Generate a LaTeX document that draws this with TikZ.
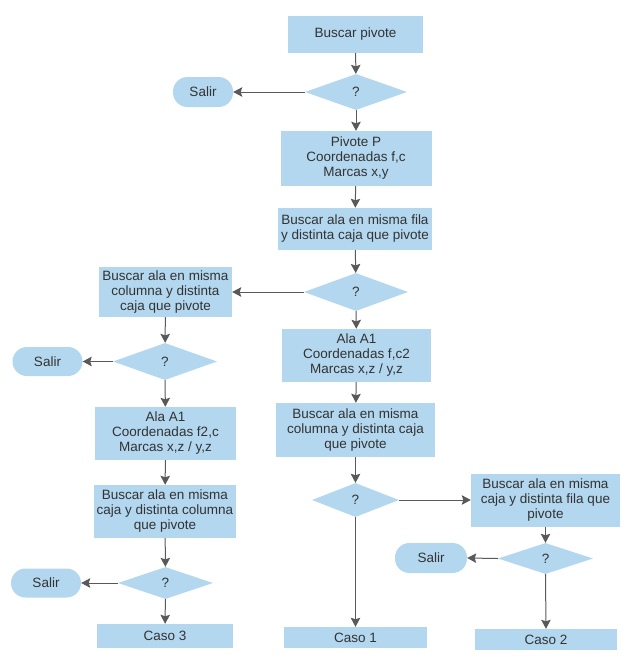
\documentclass[tikz,border=0pt]{standalone}
\usepackage{fontspec}
\setmainfont{Liberation Sans}
\usetikzlibrary{arrows.meta}
\usetikzlibrary{shapes.geometric}

\definecolor{relleno}{HTML}{B2D7EF}
\definecolor{linea}{HTML}{595959}
\definecolor{texto}{HTML}{333333}

\tikzset{
    caja/.style = {rectangle, fill=relleno, text=texto, align=center, inner sep=0pt,
                   font=\fontsize{13.5}{15}\selectfont},
    rombo/.style = {diamond, fill=relleno, text=texto, inner sep=0pt,
                    font=\fontsize{13.5}{15}\selectfont},
    salida/.style = {rectangle, rounded corners=14.5pt, fill=relleno, text=texto, inner sep=0pt,
                     minimum width=70pt, minimum height=29pt, font=\fontsize{13.5}{15}\selectfont},
    flecha/.style = {draw=linea, line width=1pt, -{Stealth[length=9pt, width=9.5pt, inset=1.5pt]}}
}

\begin{document}
\begin{tikzpicture}[x=1pt, y=-1pt]

    \useasboundingbox (0,0) rectangle (634,659);

    % columna central
    \node[caja, minimum width=135pt, minimum height=37pt] (buscar) at (355.5,34.5) {Buscar pivote};
    \node[rombo, minimum width=102pt, minimum height=36pt] (d1) at (356,92) {?};
    \node[salida, minimum width=60pt, minimum height=30pt] (s1) at (203,92) {Salir};
    \node[caja, minimum width=151pt, minimum height=55pt] (pivote) at (356,158.5)
        {Pivote P\\Coordenadas f,c\\Marcas x,y};
    \node[caja, minimum width=154pt, minimum height=42pt] (fila) at (355,229)
        {Buscar ala en misma fila\\y distinta caja que pivote};
    \node[rombo, minimum width=104pt, minimum height=38pt] (d2) at (356,292) {?};
    \node[caja, minimum width=149pt, minimum height=53pt] (alaM) at (356.5,355.5)
        {Ala A1\\Coordenadas f,c2\\Marcas x,z / y,z};
    \node[caja, minimum width=159pt, minimum height=54pt] (colM) at (355.5,430)
        {Buscar ala en misma\\columna y distinta caja\\que pivote};
    \node[rombo, minimum width=87pt, minimum height=34pt] (d3) at (355.5,500) {?};
    \node[caja, minimum width=143pt, minimum height=21pt] (caso1) at (355.5,637.5) {Caso 1};

    % columna derecha
    \node[caja, minimum width=149pt, minimum height=53pt] (cajaR) at (545.5,500.5)
        {Buscar ala en misma\\caja y distinta fila que\\pivote};
    \node[rombo, minimum width=95pt, minimum height=31pt] (dR) at (545.5,558.5) {?};
    \node[salida, minimum width=72pt, minimum height=30pt] (sR) at (431,558) {Salir};
    \node[caja, minimum width=142pt, minimum height=21pt] (caso2) at (546,639.5) {Caso 2};

    % columna izquierda
    \node[caja, minimum width=133pt, minimum height=50pt] (colL) at (165.5,292)
        {Buscar ala en misma\\columna y distinta\\caja que pivote};
    \node[rombo, minimum width=104pt, minimum height=37pt] (dL1) at (165,361.5) {?};
    \node[salida] (sL1) at (47.5,361.5) {Salir};
    \node[caja, minimum width=141pt, minimum height=53pt] (alaL) at (165.5,433.5)
        {Ala A1\\Coordenadas f2,c\\Marcas x,z / y,z};
    \node[caja, minimum width=142pt, minimum height=53pt] (cajaL) at (165,511.5)
        {Buscar ala en misma\\caja y distinta columna\\que pivote};
    \node[rombo, minimum width=95pt, minimum height=32pt] (dL2) at (165.5,583) {?};
    \node[salida] (sL2) at (46,583) {Salir};
    \node[caja, minimum width=136pt, minimum height=24pt] (caso3) at (165,636) {Caso 3};

    % conexiones
    \draw[flecha] (buscar) -- (d1);
    \draw[flecha] (d1.west) -- (s1.east);
    \draw[flecha] (d1) -- (pivote);
    \draw[flecha] (pivote) -- (fila);
    \draw[flecha] (fila) -- (d2);
    \draw[flecha] (d2.west) -- (colL.east);
    \draw[flecha] (d2) -- (alaM);
    \draw[flecha] (alaM) -- (colM);
    \draw[flecha] (colM) -- (d3);
    \draw[flecha] (d3.south) -- (caso1.north);
    \draw[flecha] (d3.east) -- (cajaR.west |- d3.east);
    \draw[flecha] (cajaR) -- (dR);
    \draw[flecha] (dR.west) -- (sR.east);
    \draw[flecha] (dR.south) -- (caso2.north);
    \draw[flecha] (colL) -- (dL1);
    \draw[flecha] (dL1.west) -- (sL1.east);
    \draw[flecha] (dL1) -- (alaL);
    \draw[flecha] (alaL) -- (cajaL);
    \draw[flecha] (cajaL) -- (dL2);
    \draw[flecha] (dL2.west) -- (sL2.east);
    \draw[flecha] (dL2) -- (caso3);

\end{tikzpicture}
\end{document}
